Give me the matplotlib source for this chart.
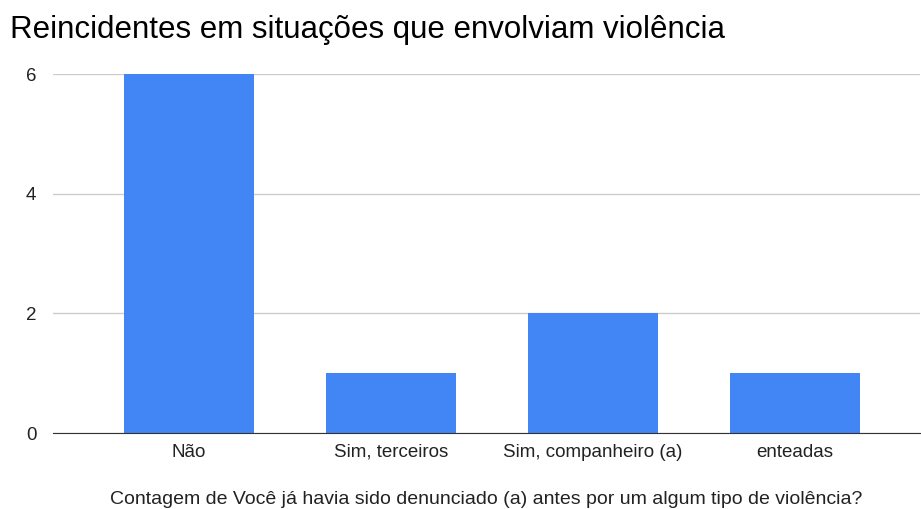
import matplotlib.pyplot as plt

plt.rcParams['font.family'] = ['Liberation Sans', 'DejaVu Sans']

categorias = ['Não', 'Sim, terceiros', 'Sim, companheiro (a)', 'enteadas']
contagem = [6, 1, 2, 1]
yticks = [0, 2, 4, 6]

fig = plt.figure(figsize=(9.21, 5.09), dpi=100)
ax = fig.add_axes([0.0575, 0.1493, 0.9415, 0.7053])

x = range(len(categorias))
ax.bar(x, contagem, width=0.644, color='#4285f4', zorder=3)

ax.set_xlim(-0.673, 3.619)
ax.set_ylim(0, 6)
ax.set_yticks(yticks)
ax.set_xticks(list(x))
ax.set_xticklabels(categorias, fontsize=13.5, color='#222222', va='baseline')
ax.tick_params(axis='y', labelsize=13.5, colors='#222222', length=0, pad=12)
ax.tick_params(axis='x', length=0, pad=17)
ax.grid(axis='y', color='#cccccc', linewidth=1, zorder=0)
for s in ['top', 'right', 'left']:
    ax.spines[s].set_visible(False)
ax.spines['bottom'].set_color('#333333')
ax.spines['bottom'].set_zorder(4)

ax.set_xlabel('Contagem de Você já havia sido denunciado (a) antes por um algum tipo de violência?',
              fontsize=14, color='#222222', labelpad=22)
fig.text(0.011, 0.941, 'Reincidentes em situações que envolviam violência',
         fontsize=22.5, color='#000000', va='center')

fig.savefig('out.png', dpi=100)
